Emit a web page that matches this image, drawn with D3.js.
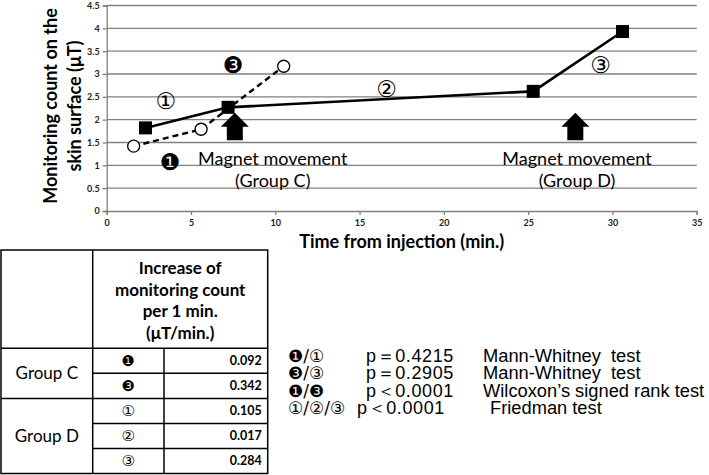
<!DOCTYPE html>
<html>
<head>
<meta charset="utf-8">
<script src="https://cdn.jsdelivr.net/npm/d3@7"></script>
<style>
  body { margin: 0; background: #fff; }
  svg { display: block; }
</style>
</head>
<body>
<div id="chart"></div>
<script>
// Chart data
const solidTimes = [2.3, 7.2, 25.3, 30.6];
const solidValues = [1.82, 2.27, 2.62, 3.93];
const dashedTimes = [1.6, 5.6, 10.5];
const dashedValues = [1.42, 1.79, 3.17];
const xTicks = [0, 5, 10, 15, 20, 25, 30, 35];
const yTicks = [0, 0.5, 1, 1.5, 2, 2.5, 3, 3.5, 4, 4.5];

// Magnet movement arrows
const arrowTimes = [7.6, 27.8];
const arrowGroups = ["(Group C)", "(Group D)"];
const arrowLabelTimes = [9.85, 27.9];

// Segment labels on the chart
const segLabels = ["①", "❸", "❶", "②", "③"];
const segLabelTimes = [3.5, 7.5, 3.75, 16.6, 29.3];
const segLabelValues = [2.41, 3.2, 1.07, 2.67, 3.2];

// Table
const tableGroups = ["Group C", "Group D"];
const tableSymbols = ["❶", "❸", "①", "②", "③"];
const tableValues = ["0.092", "0.342", "0.105", "0.017", "0.284"];
const tableHeader = ["Increase of", "monitoring count", "per 1 min.", "(μT/min.)"];

// Statistics
const statPairs = ["❶/①", "❸/③", "❶/❸", "①/②/③"];
const statP = ["p＝0.4215", "p＝0.2905", "p＜0.0001", "p＜0.0001"];
const statTests = ["Mann-Whitney\u00a0\u00a0test", "Mann-Whitney\u00a0\u00a0test", "Wilcoxon’s signed rank test", "Friedman test"];

const W = 709, H = 475;
const font = "Lato, 'Open Sans', sans-serif";
const symFont = "'DejaVu Sans', sans-serif";
const svg = d3.select("#chart").append("svg").attr("width", W).attr("height", H);

const x = d3.scaleLinear().domain([0, 35]).range([106.7, 696.7]);
const y = d3.scaleLinear().domain([0, 4.5]).range([211, 5.5]);

// gridlines
svg.append("g").selectAll("line")
    .data(yTicks.filter(d => d > 0))
    .enter().append("line")
    .attr("x1", x(0)).attr("x2", x(35))
    .attr("y1", d => y(d)).attr("y2", d => y(d))
    .attr("stroke", "#808080").attr("stroke-width", 1.3);

// axes
const xAxis = svg.append("g")
    .attr("transform", `translate(0,${y(0)})`)
    .call(d3.axisBottom(x).tickValues(xTicks).tickSize(4).tickPadding(5).tickFormat(d3.format("d")));
const yAxis = svg.append("g")
    .attr("transform", `translate(${x(0)},0)`)
    .call(d3.axisLeft(y).tickValues(yTicks).tickSize(4).tickPadding(3).tickFormat(d => d));
[xAxis, yAxis].forEach(a => {
  a.select(".domain").attr("stroke", "#808080").attr("stroke-width", 1.3);
  a.selectAll(".tick line").attr("stroke", "#808080").attr("stroke-width", 1.3);
  a.selectAll("text").attr("font-family", font).attr("font-size", 9).attr("font-weight", "bold").attr("fill", "#222");
});

// lines
const solidData = solidTimes.map((t, i) => [t, solidValues[i]]);
const dashedData = dashedTimes.map((t, i) => [t, dashedValues[i]]);
const line = d3.line().x(d => x(d[0])).y(d => y(d[1]));

svg.append("path").datum(dashedData).attr("d", line)
    .attr("fill", "none").attr("stroke", "#000").attr("stroke-width", 2.4)
    .attr("stroke-dasharray", "6,4");
svg.append("path").datum(solidData).attr("d", line)
    .attr("fill", "none").attr("stroke", "#000").attr("stroke-width", 2.6);

svg.selectAll(".sq").data(solidData).enter().append("rect")
    .attr("x", d => x(d[0]) - 6.5).attr("y", d => y(d[1]) - 6.5)
    .attr("width", 13).attr("height", 13).attr("fill", "#000");
svg.selectAll(".ci").data(dashedData).enter().append("circle")
    .attr("cx", d => x(d[0])).attr("cy", d => y(d[1])).attr("r", 6)
    .attr("fill", "#fff").attr("stroke", "#000").attr("stroke-width", 1.3);

// arrows
arrowTimes.forEach((t, i) => {
  const cx = x(t), top = y(2.15), bot = y(1.55);
  const hw = 14, sw = 8, hh = 14;
  svg.append("path")
      .attr("d", `M${cx},${top} L${cx + hw},${top + hh} L${cx + sw},${top + hh} L${cx + sw},${bot} L${cx - sw},${bot} L${cx - sw},${top + hh} L${cx - hw},${top + hh} Z`)
      .attr("fill", "#000");
  const lx = x(arrowLabelTimes[i]);
  svg.append("text").attr("x", lx).attr("y", 165).attr("text-anchor", "middle")
      .attr("font-family", font).attr("font-size", 18).text("Magnet movement");
  svg.append("text").attr("x", lx).attr("y", 187).attr("text-anchor", "middle")
      .attr("font-family", font).attr("font-size", 18).text(arrowGroups[i]);
});

// segment labels
segLabels.forEach((s, i) => {
  svg.append("text").attr("x", x(segLabelTimes[i])).attr("y", y(segLabelValues[i]))
      .attr("text-anchor", "middle").attr("dominant-baseline", "central")
      .attr("font-family", symFont).attr("font-size", 23).text(s);
});

// axis titles
const yTitle = svg.append("text").attr("transform", "translate(0,106) rotate(-90)")
    .attr("text-anchor", "middle").attr("font-family", font).attr("font-weight", "bold").attr("font-size", 18);
yTitle.append("tspan").attr("x", 0).attr("y", 57).text("Monitoring count on the");
yTitle.append("tspan").attr("x", 0).attr("y", 81).text("skin surface (μT)");

svg.append("text").attr("x", (x(0) + x(35)) / 2).attr("y", 248).attr("text-anchor", "middle")
    .attr("font-family", font).attr("font-weight", "bold").attr("font-size", 18)
    .text("Time from injection (min.)");

// table
const tb = { left: 1, right: 267.7, top: 250, bottom: 473.5, col1: 92.7, col2: 164, head: 348.3 };
const rowH = (tb.bottom - tb.head) / tableValues.length;
const tg = svg.append("g").attr("stroke", "#000").attr("stroke-width", 1.5);
tg.append("rect").attr("x", tb.left).attr("y", tb.top)
    .attr("width", tb.right - tb.left).attr("height", tb.bottom - tb.top).attr("fill", "none");
tg.append("line").attr("x1", tb.col1).attr("x2", tb.col1).attr("y1", tb.top).attr("y2", tb.bottom);
tg.append("line").attr("x1", tb.col2).attr("x2", tb.col2).attr("y1", tb.head).attr("y2", tb.bottom);
tg.append("line").attr("x1", tb.left).attr("x2", tb.right).attr("y1", tb.head).attr("y2", tb.head);
tableValues.forEach((v, i) => {
  if (i === 0) return;
  const full = i === 2;
  tg.append("line").attr("x1", full ? tb.left : tb.col1).attr("x2", tb.right)
      .attr("y1", tb.head + i * rowH).attr("y2", tb.head + i * rowH);
});

tableHeader.forEach((h, i) => {
  svg.append("text").attr("x", (tb.col1 + tb.right) / 2).attr("y", 274 + i * 21.6)
      .attr("text-anchor", "middle").attr("font-family", font).attr("font-weight", "bold")
      .attr("font-size", 17).text(h);
});
const groupRows = [[0, 2], [2, 5]];
tableGroups.forEach((g, i) => {
  const cy = tb.head + (groupRows[i][0] + groupRows[i][1]) / 2 * rowH;
  svg.append("text").attr("x", (tb.left + tb.col1) / 2).attr("y", cy + 6)
      .attr("text-anchor", "middle").attr("font-family", font).attr("font-size", 17).text(g);
});
tableSymbols.forEach((s, i) => {
  const cy = tb.head + (i + 0.5) * rowH;
  svg.append("text").attr("x", (tb.col1 + tb.col2) / 2).attr("y", cy)
      .attr("text-anchor", "middle").attr("dominant-baseline", "central")
      .attr("font-family", symFont).attr("font-size", 15).text(s);
  svg.append("text").attr("x", tb.right - 6).attr("y", cy + 4.5)
      .attr("text-anchor", "end").attr("font-family", font).attr("font-weight", "bold")
      .attr("font-size", 12.5).text(tableValues[i]);
});

// statistics
const sFont = "'Liberation Sans', Arial, sans-serif";
statPairs.forEach((p, i) => {
  const by = 362 + i * 17.3;
  svg.append("text").attr("x", 288).attr("y", by)
      .attr("font-family", symFont).attr("font-size", 17).text(p);
  svg.append("text").attr("x", i === 3 ? 357 : 366).attr("y", by)
      .attr("font-family", sFont).attr("font-size", 18).attr("letter-spacing", 0.6).text(statP[i]);
  svg.append("text").attr("x", i === 3 ? 490 : 483).attr("y", by)
      .attr("font-family", sFont).attr("font-size", 18.3).text(statTests[i]);
});
</script>
</body>
</html>
